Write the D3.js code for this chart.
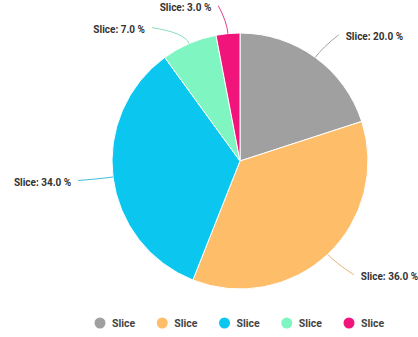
<!DOCTYPE html>
<html>
<head>
<meta charset="utf-8">
<script src="https://cdn.jsdelivr.net/npm/d3@7"></script>
<style>
  body { margin: 0; background: #fff; }
  svg { display: block; font-family: Roboto, "Open Sans", sans-serif; }
  .lbl { font-size: 10px; font-weight: 700; fill: #333; }
  .legendText { font-size: 10.5px; font-weight: 700; fill: #444; }
</style>
</head>
<body>
<svg id="chart" width="418" height="337"></svg>
<script>
let categories = ['Slice', 'Slice', 'Slice', 'Slice', 'Slice'];
let values = [20, 36, 34, 7, 3];
let colors = ['#a0a0a0', '#fdbd69', '#0bc7ef', '#7ff5c2', '#f1157b'];

let center = {x: 240, y: 161};
let radius = 128;

let svg = d3.select('#chart');
let total = d3.sum(values);
let data = values.map((v, i) => ({name: categories[i], value: v, color: colors[i]}));

let pie = d3.pie().sort(null).value(d => d.value);
let arc = d3.arc().innerRadius(0).outerRadius(radius);
let arcs = pie(data);

let canvas = svg.append('g')
    .attr('transform', `translate(${center.x}, ${center.y})`);

canvas.selectAll('.slice')
    .data(arcs)
    .join('path')
    .classed('slice', true)
    .attr('d', arc)
    .attr('fill', d => d.data.color)
    .attr('stroke', '#fff')
    .attr('stroke-width', 1);

// label anchor points on a bigger circle, then push apart overlaps
let labelR = radius + 28;
let labels = arcs.map(d => {
    let a = (d.startAngle + d.endAngle) / 2;
    return {
        d: d,
        a: a,
        x: labelR * Math.sin(a),
        y: -labelR * Math.cos(a),
        side: Math.sin(a) >= 0 ? 1 : -1
    };
});

[1, -1].forEach(side => {
    let group = labels.filter(l => l.side === side).sort((p, q) => p.y - q.y);
    for (let i = 1; i < group.length; i++) {
        let prev = group[i - 1], cur = group[i];
        if (cur.y - prev.y < 22) {
            cur.y = prev.y + 22;
            let dx = Math.sqrt(Math.max(0, labelR * labelR - cur.y * cur.y));
            cur.x = side * dx;
        }
    }
});

labels.forEach(l => {
    let sx = radius * Math.sin(l.a), sy = -radius * Math.cos(l.a);
    let cx = (radius + 12) * Math.sin(l.a), cy = -(radius + 12) * Math.cos(l.a);
    l.ex = l.x + l.side * 7;
    l.ey = l.y;
    l.path = `M${sx},${sy} Q${cx},${cy} ${l.ex},${l.ey}`;
});

canvas.selectAll('.leader')
    .data(labels)
    .join('path')
    .classed('leader', true)
    .attr('d', l => l.path)
    .attr('fill', 'none')
    .attr('stroke', l => d3.color(l.d.data.color).darker(0.4))
    .attr('stroke-width', 1)
    .attr('opacity', 0.8);

canvas.selectAll('.lbl')
    .data(labels)
    .join('text')
    .classed('lbl', true)
    .attr('x', l => l.ex + l.side * 7)
    .attr('y', l => l.ey + 3)
    .attr('text-anchor', l => l.side > 0 ? 'start' : 'end')
    .style('dominant-baseline', 'middle')
    .text(l => `${l.d.data.name}: ${(l.d.data.value / total * 100).toFixed(1)} %`);

// legend
let legendX = d3.scalePoint()
    .domain(d3.range(data.length))
    .range([100, 349]);

let legend = svg.append('g')
    .attr('transform', 'translate(0, 323)');

let items = legend.selectAll('.legendItem')
    .data(data)
    .join('g')
    .classed('legendItem', true)
    .attr('transform', (d, i) => `translate(${legendX(i)}, 0)`);

items.append('circle')
    .attr('r', 5.5)
    .attr('fill', d => d.color);

items.append('text')
    .classed('legendText', true)
    .attr('x', 12)
    .attr('y', 1)
    .style('dominant-baseline', 'middle')
    .text(d => d.name);
</script>
</body>
</html>
